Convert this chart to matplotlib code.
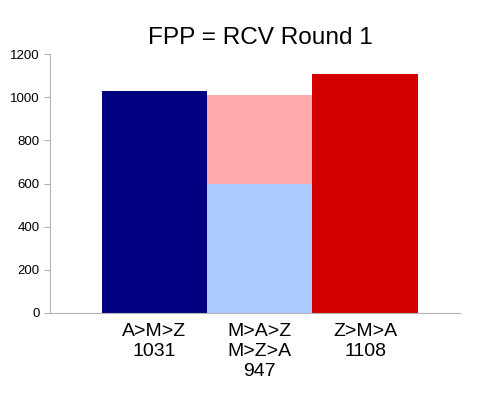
import matplotlib
matplotlib.use('Agg')
import matplotlib.pyplot as plt

plt.rcParams['font.family'] = ['Liberation Sans', 'DejaVu Sans']

categories = ['A>M>Z\n1031', 'M>A>Z\nM>Z>A\n947', 'Z>M>A\n1108']
bottom_vals = [1031, 596, 1108]
top_vals = [0, 414, 0]
bottom_colors = ['#000080', '#aaccff', '#d40000']
top_colors = ['none', '#ffaaaa', 'none']

fig = plt.figure(figsize=(5, 3.98), dpi=100)
ax = fig.add_axes([0.1, 0.2136, 0.82, 0.6504])

x = list(range(len(categories)))
ax.bar(x, bottom_vals, width=1.0, color=bottom_colors, linewidth=0)
ax.bar(x, top_vals, width=1.0, bottom=bottom_vals, color=top_colors, linewidth=0)

ax.set_xlim(-0.99, 2.9)
ax.set_ylim(0, 1200)
ax.set_yticks(range(0, 1201, 200))
ax.set_xticks(x)
ax.set_xticklabels(categories, fontsize=14, linespacing=1.25)
ax.tick_params(axis='x', length=0, pad=7)
ax.tick_params(axis='y', labelsize=9.5, color='#b3b3b3', length=4, direction='out')

for s in ['top', 'right']:
    ax.spines[s].set_visible(False)
for s in ['left', 'bottom']:
    ax.spines[s].set_color('#b3b3b3')

fig.text(0.52, 0.905, 'FPP = RCV Round 1', ha='center', va='center', fontsize=17.6)

fig.savefig('out.png', dpi=100)
